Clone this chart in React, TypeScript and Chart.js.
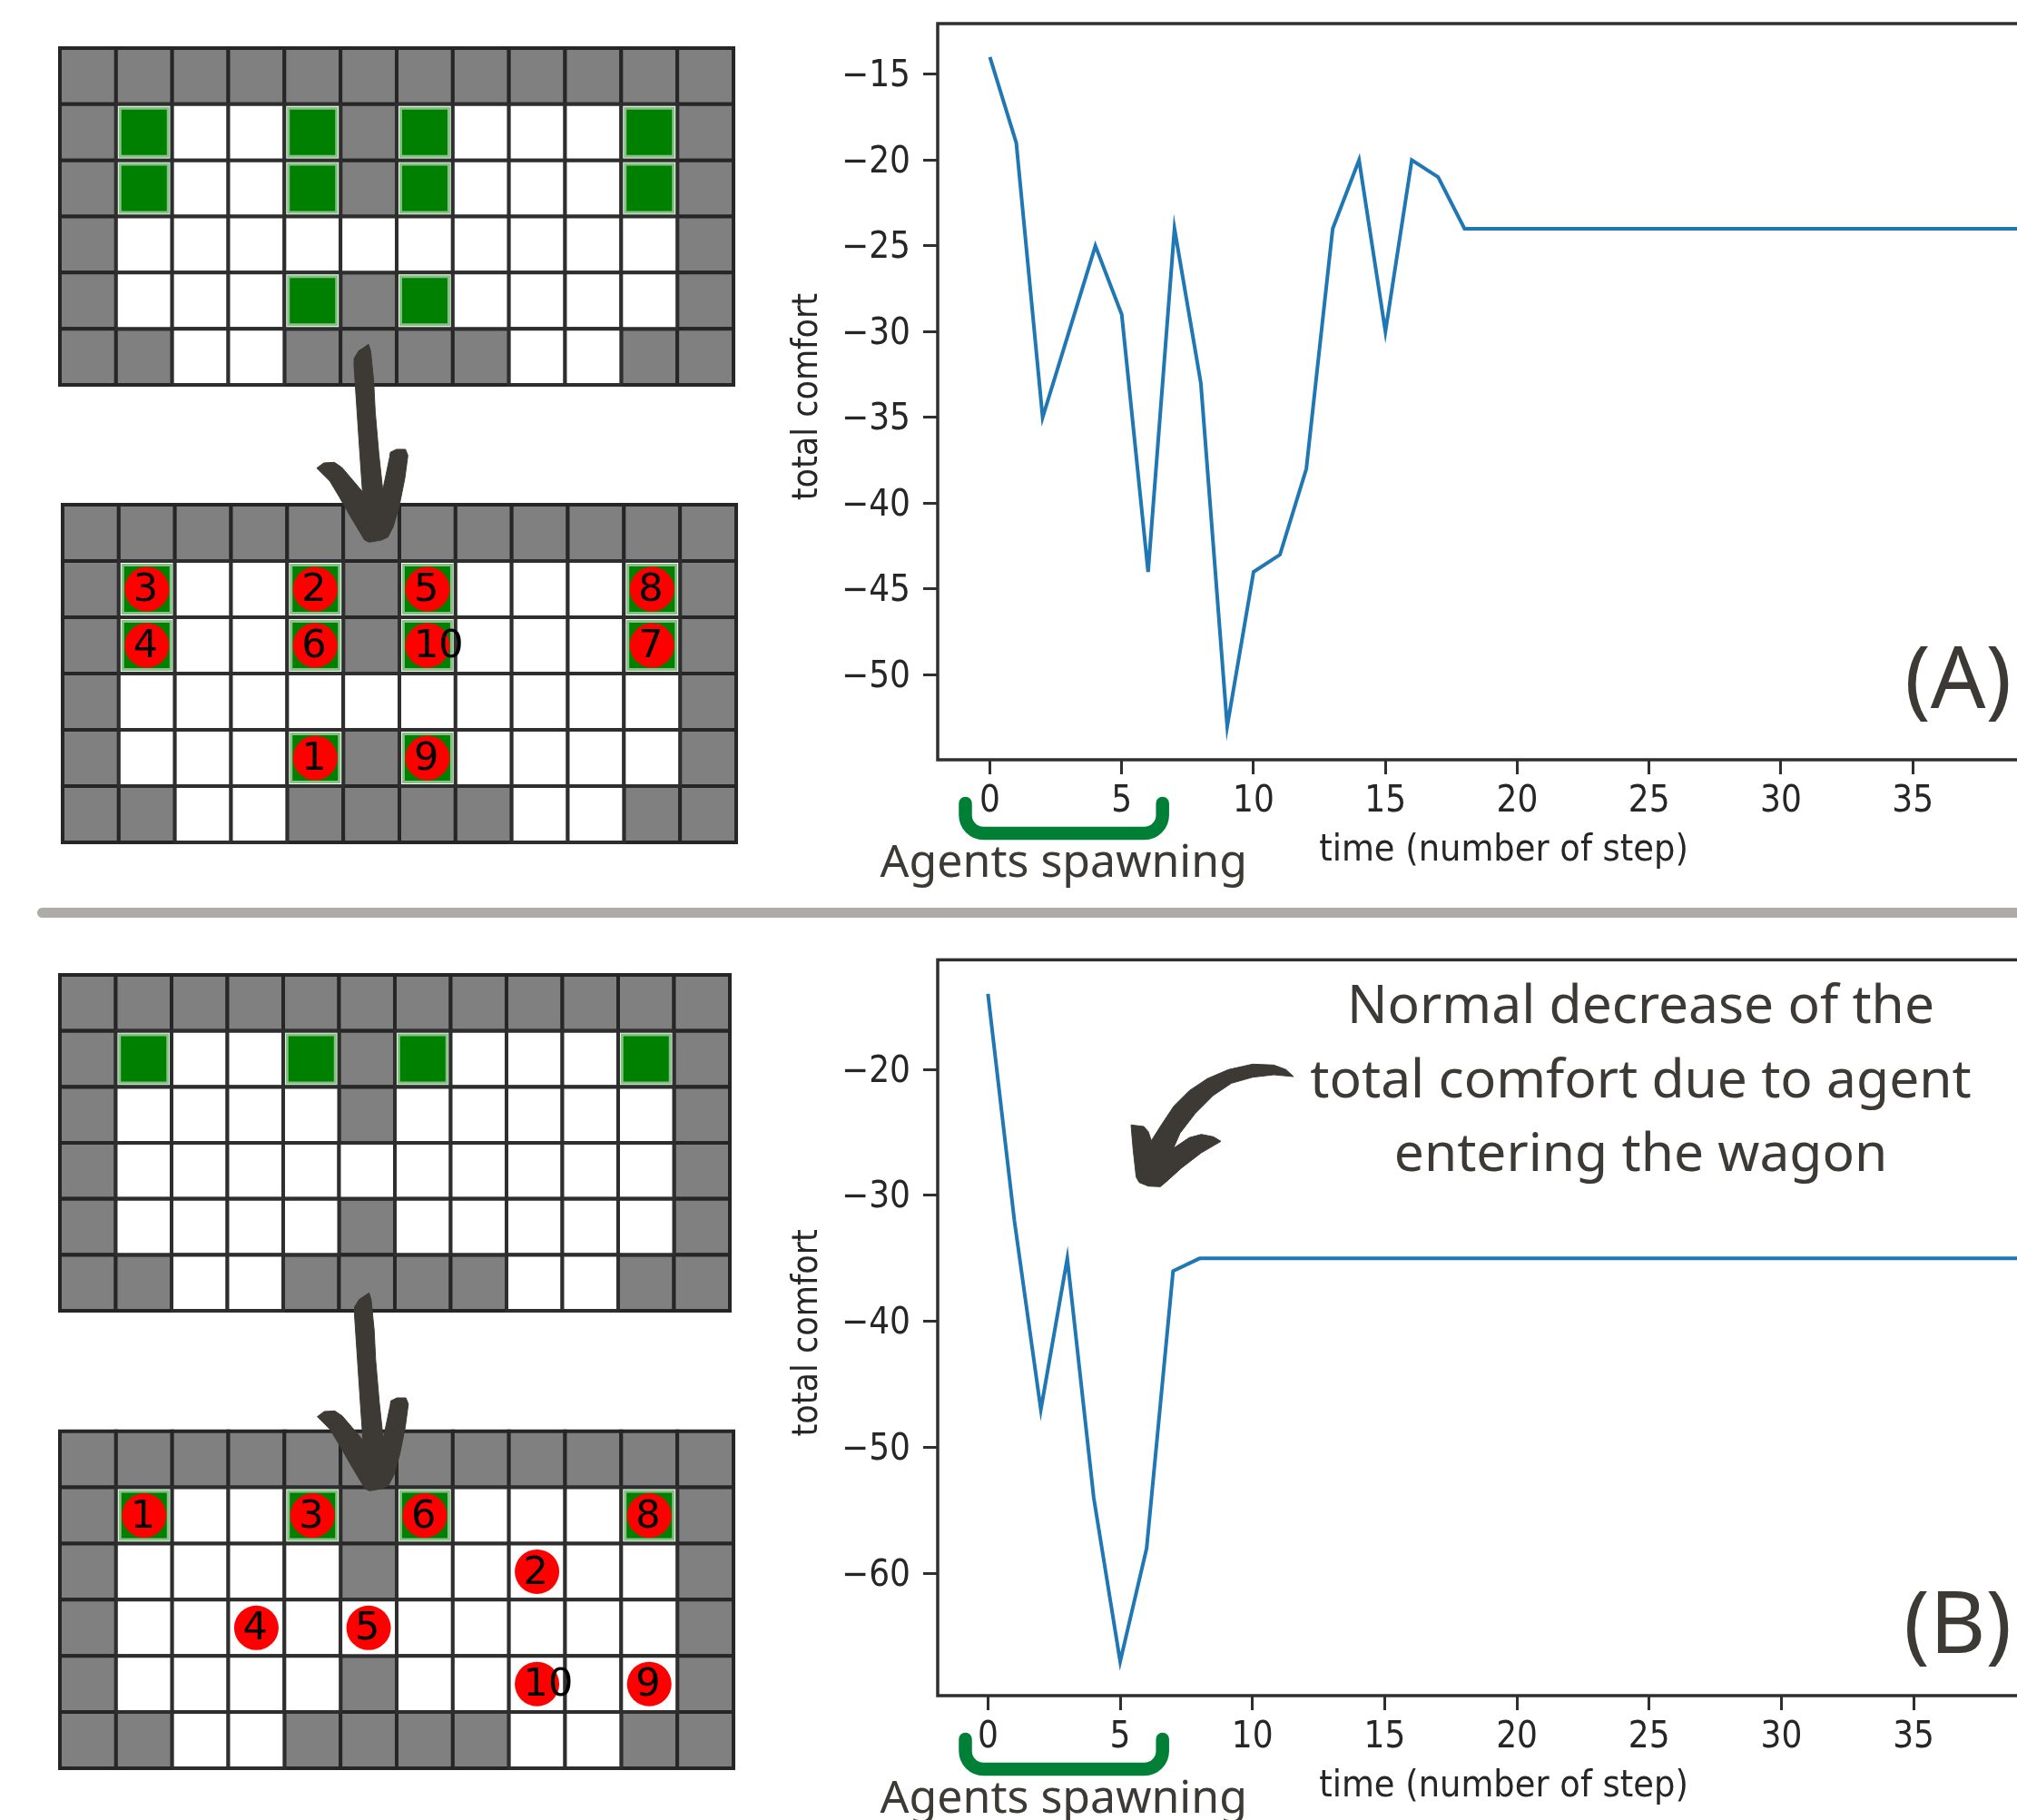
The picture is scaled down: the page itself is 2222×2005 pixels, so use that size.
import React, { useEffect, useRef } from "react";
import { Chart, registerables } from "chart.js";

Chart.register(...registerables);

// ---------- data ----------
const comfortA = [-14, -19, -35, -30, -25, -29, -44, -24, -33, -53, -44, -43, -38, -24, -20, -30, -20, -21, -24,
  -24, -24, -24, -24, -24, -24, -24, -24, -24, -24, -24, -24, -24, -24, -24, -24, -24, -24, -24, -24, -24];
const comfortB = [-14, -32, -47, -35, -54, -67, -58, -36, -35,
  -35, -35, -35, -35, -35, -35, -35, -35, -35, -35, -35, -35, -35, -35, -35, -35, -35, -35, -35, -35, -35, -35, -35, -35, -35, -35, -35, -35, -35, -35, -35];
const steps = comfortA.map((_, i) => i);
const xTicks = [0, 5, 10, 15, 20, 25, 30, 35];
const yTicksA = [-15, -20, -25, -30, -35, -40, -45, -50];
const yTicksB = [-20, -30, -40, -50, -60];
const xTitle = "time (number of step)";
const yTitle = "total comfort ";
const spawnLabel = "Agents spawning";
const noteLines = ["Normal decrease of the", "total comfort due to agent", "entering the wagon"];

// W = wall, F = free floor, S = seat
const layoutA = [
  "WWWWWWWWWWWW",
  "WSFFSWSFFFSW",
  "WSFFSWSFFFSW",
  "WFFFFFFFFFFW",
  "WFFFSWSFFFFW",
  "WWFFWWWWFFWW",
];
const layoutB = [
  "WWWWWWWWWWWW",
  "WSFFSWSFFFSW",
  "WFFFFWFFFFFW",
  "WFFFFFFFFFFW",
  "WFFFFWFFFFFW",
  "WWFFWWWWFFWW",
];
// [agent number, column, row]
const agentsA: number[][] = [
  [3, 1, 1], [2, 4, 1], [5, 6, 1], [8, 10, 1],
  [4, 1, 2], [6, 4, 2], [10, 6, 2], [7, 10, 2],
  [1, 4, 4], [9, 6, 4],
];
const agentsB: number[][] = [
  [1, 1, 1], [3, 4, 1], [6, 6, 1], [8, 10, 1],
  [2, 8, 2], [4, 3, 3], [5, 5, 3], [10, 8, 4], [9, 10, 4],
];
const noAgents: number[][] = [];

// ---------- styles ----------
const INK = "#3d3a35";
const AXIS = "#2f2f2f";
const TICK_FONT = '"DejaVu Sans Condensed", "DejaVu Sans"';
const NOTE_FONT = '"Noto Sans", "Open Sans"';

const straightArrow = [
  [150, 75], [165, 50], [198, 28], [205, 50], [215, 150], [220, 250], [232, 390], [245, 510], [268, 400], [270, 385],
  [290, 375], [320, 375], [328, 395], [318, 470], [300, 560], [280, 630], [262, 665], [240, 675], [200, 682], [185, 675],
  [140, 600], [100, 530], [70, 480], [27, 437], [50, 420], [85, 418], [110, 435], [140, 470], [178, 515], [170, 400],
  [160, 250], [150, 100],
];
const curvedArrow = [
  [585, 108], [560, 85], [520, 70], [450, 67], [370, 85], [300, 115], [240, 155], [190, 205], [150, 265], [115, 320],
  [105, 290], [90, 273], [48, 268], [55, 350], [65, 440], [75, 458], [105, 470], [145, 472], [165, 455], [215, 410],
  [280, 360], [345, 322], [320, 307], [280, 299], [240, 310], [188, 345], [210, 295], [260, 230], [320, 170], [380, 130],
  [450, 110], [520, 102],
];

function drawShape(ctx: CanvasRenderingContext2D, pts: number[][], ox: number, oy: number) {
  ctx.save();
  ctx.fillStyle = INK;
  ctx.strokeStyle = INK;
  ctx.lineWidth = 1;
  ctx.lineJoin = "round";
  ctx.beginPath();
  pts.forEach(([x, y], i) => {
    const px = ox + x / 3;
    const py = oy + y / 3;
    if (i === 0) ctx.moveTo(px, py);
    else ctx.lineTo(px, py);
  });
  ctx.closePath();
  ctx.fill();
  ctx.stroke();
  ctx.restore();
}

// ---------- grid panel ----------
type GridProps = {
  layout: string[];
  agents: number[][];
  left: number;
  top: number;
  right: number;
  bottom: number;
  arrowAt?: number[];
};

function GridChart({ layout, agents, left, top, right, bottom, arrowAt }: GridProps) {
  const ref = useRef<HTMLCanvasElement>(null);
  const pad = 4;
  const canvasTop = arrowAt ? Math.min(arrowAt[1] - 10, top - pad) : top - pad;
  const canvasLeft = left - pad;
  const canvasW = right - left + 2 * pad;
  const canvasH = bottom + pad - canvasTop;
  useEffect(() => {
    const pick = (kinds: string) => {
      const out: { x: number; y: number }[] = [];
      layout.forEach((row, r) => {
        row.split("").forEach((c, k) => {
          if (kinds.includes(c)) out.push({ x: k + 0.5, y: r + 0.5 });
        });
      });
      return out;
    };
    const cell = (right - left) / 12;
    const cellR = cell / Math.SQRT2;
    const chart = new Chart(ref.current!, {
      type: "scatter",
      data: {
        datasets: [
          {
            label: "agents",
            data: agents.map(([, c, r]) => ({ x: c + 0.5, y: r + 0.5 })),
            pointStyle: "circle",
            pointRadius: 24.5,
            pointBackgroundColor: "#ff0000",
            pointBorderWidth: 0,
            clip: false,
          },
          {
            label: "seats",
            data: pick("S"),
            pointStyle: "rect",
            pointRadius: 37.5,
            pointBackgroundColor: "#008000",
            pointBorderColor: "#86c286",
            pointBorderWidth: 3,
            clip: false,
          },
          {
            label: "floor",
            data: pick("FS"),
            pointStyle: "rect",
            pointRadius: cellR,
            pointBackgroundColor: "#ffffff",
            pointBorderColor: "#2e2e2e",
            pointBorderWidth: 4,
            clip: false,
          },
          {
            label: "walls",
            data: pick("W"),
            pointStyle: "rect",
            pointRadius: cellR,
            pointBackgroundColor: "#808080",
            pointBorderColor: "#262626",
            pointBorderWidth: 4,
            clip: false,
          },
        ] as any,
      },
      options: {
        animation: false,
        responsive: false,
        events: [],
        layout: { autoPadding: false, padding: { left: pad, right: pad, bottom: pad, top: top - canvasTop } },
        scales: {
          x: { type: "linear", min: 0, max: 12, display: false },
          y: { type: "linear", min: 0, max: 6, reverse: true, display: false },
        },
        plugins: { legend: { display: false }, tooltip: { enabled: false } },
      },
      plugins: [
        {
          id: "agentNumbers",
          afterDatasetsDraw(c: any) {
            const ctx = c.ctx as CanvasRenderingContext2D;
            ctx.save();
            ctx.fillStyle = "#000000";
            ctx.font = '43px "DejaVu Sans"';
            ctx.textBaseline = "middle";
            ctx.textAlign = "left";
            agents.forEach(([n, col, row]) => {
              const x = c.scales.x.getPixelForValue(col + 0.5);
              const y = c.scales.y.getPixelForValue(row + 0.5);
              ctx.fillText(String(n), x - 15, y + 2);
            });
            ctx.restore();
            if (arrowAt) drawShape(ctx, straightArrow, arrowAt[0] - canvasLeft, arrowAt[1] - canvasTop);
          },
        },
      ],
    } as any);
    return () => chart.destroy();
  }, []);
  return (
    <canvas
      ref={ref}
      width={canvasW}
      height={canvasH}
      style={{ position: "absolute", left: canvasLeft, top: canvasTop, display: "block" }}
    />
  );
}

// ---------- comfort line chart ----------
type LineProps = {
  values: number[];
  yTicks: number[];
  top: number;
  bottom: number;
  xMin: number;
  xMax: number;
  yMin: number;
  yMax: number;
  tag: string;
  tagBaseline: number;
  note?: boolean;
};

function ComfortChart({ values, yTicks, top, bottom, xMin, xMax, yMin, yMax, tag, tagBaseline, note }: LineProps) {
  const ref = useRef<HTMLCanvasElement>(null);
  const canvasLeft = 840;
  const canvasTop = bottom - 837;
  const canvasW = 1460;
  const canvasH = 1000;
  const axisLeft = 1033;
  const axisRight = 2280;
  useEffect(() => {
    const chart = new Chart(ref.current!, {
      type: "line",
      data: {
        labels: steps,
        datasets: [
          {
            data: steps.map((s, i) => ({ x: s, y: values[i] })),
            borderColor: "#1f77b4",
            borderWidth: 4,
            pointRadius: 0,
            tension: 0,
            fill: false,
          },
        ],
      },
      options: {
        animation: false,
        responsive: false,
        events: [],
        layout: {
          autoPadding: false,
          padding: { left: 0, top: top - canvasTop, right: canvasLeft + canvasW - axisRight, bottom: 0 },
        },
        scales: {
          x: {
            type: "linear",
            min: xMin,
            max: xMax,
            afterBuildTicks: (s: any) => {
              s.ticks = xTicks.map((value) => ({ value }));
            },
            afterFit: (s: any) => {
              s.height = canvasH - (bottom - canvasTop);
              s.paddingLeft = 0;
              s.paddingRight = 0;
            },
            grid: { drawOnChartArea: false, drawTicks: true, tickLength: 16, tickWidth: 3, tickColor: AXIS },
            border: { display: false },
            ticks: {
              autoSkip: false,
              maxRotation: 0,
              padding: 7,
              color: "#262626",
              font: { family: TICK_FONT, size: 40 },
              callback: (v: any) => String(v),
            },
            title: {
              display: true,
              text: xTitle,
              color: "#262626",
              font: { family: TICK_FONT, size: 41 },
              padding: { top: 0, bottom: 38 },
            },
          },
          y: {
            type: "linear",
            min: yMin,
            max: yMax,
            afterBuildTicks: (s: any) => {
              s.ticks = yTicks.map((value) => ({ value }));
            },
            afterFit: (s: any) => {
              s.width = axisLeft - canvasLeft;
              s.paddingTop = 0;
              s.paddingBottom = 0;
            },
            grid: { drawOnChartArea: false, drawTicks: true, tickLength: 16, tickWidth: 3, tickColor: AXIS },
            border: { display: false },
            ticks: {
              autoSkip: false,
              padding: 14,
              color: "#262626",
              font: { family: TICK_FONT, size: 40 },
              callback: (v: any) => String(v).replace("-", "\u2212"),
            },
            title: {
              display: true,
              text: yTitle,
              color: "#262626",
              font: { family: TICK_FONT, size: 39 },
              padding: { top: 26, bottom: 0 },
            },
          },
        },
        plugins: { legend: { display: false }, tooltip: { enabled: false } },
      },
      plugins: [
        {
          id: "frameAndNotes",
          beforeDraw(c: any) {
            // the y labels sit a little under their tick marks in the reference
            c.scales.y.getLabelItems().forEach((item: any) => {
              item.options.translation = [item.options.translation[0], item.options.translation[1] + 3];
            });
          },
          afterDraw(c: any) {
            const ctx = c.ctx as CanvasRenderingContext2D;
            const a = c.chartArea;
            ctx.save();
            ctx.strokeStyle = AXIS;
            ctx.lineWidth = 3.5;
            ctx.strokeRect(a.left, a.top, a.right - a.left, a.bottom - a.top);

            // spawning bracket
            const yTop = a.bottom + 48;
            const yBot = a.bottom + 81;
            const xL = 1063.5 - canvasLeft;
            const xR = 1280.7 - canvasLeft;
            ctx.strokeStyle = "#008037";
            ctx.lineWidth = 14.5;
            ctx.lineCap = "round";
            ctx.beginPath();
            ctx.moveTo(xL, yTop);
            ctx.arcTo(xL, yBot, xL + 25, yBot, 20);
            ctx.arcTo(xR, yBot, xR, yBot - 25, 20);
            ctx.lineTo(xR, yTop);
            ctx.stroke();

            // text
            ctx.fillStyle = INK;
            ctx.textBaseline = "alphabetic";
            ctx.textAlign = "left";
            ctx.font = `50px ${NOTE_FONT}`;
            ctx.fillText(spawnLabel, 969.6 - canvasLeft, a.bottom + 129);
            ctx.font = `95px ${NOTE_FONT}`;
            ctx.textAlign = "right";
            ctx.fillText(tag, 2216 - canvasLeft, tagBaseline - canvasTop);
            if (note) {
              ctx.textAlign = "center";
              ctx.font = `58.7px ${NOTE_FONT}`;
              noteLines.forEach((line, i) => {
                ctx.fillText(line, 1807.5 - canvasLeft, 1127 + i * 81.5 - canvasTop);
              });
            }
            ctx.restore();
            if (note) drawShape(ctx, curvedArrow, 1230 - canvasLeft, 1150 - canvasTop);
          },
        },
      ],
    } as any);
    return () => chart.destroy();
  }, []);
  return (
    <canvas
      ref={ref}
      width={canvasW}
      height={canvasH}
      style={{ position: "absolute", left: canvasLeft, top: canvasTop, display: "block" }}
    />
  );
}

export default function App() {
  return (
    <div
      style={{
        position: "absolute",
        left: 0,
        top: 0,
        width: 2222,
        height: 2005,
        overflow: "hidden",
        background: "#ffffff",
      }}
    >
      <GridChart layout={layoutA} agents={noAgents} left={65.5} right={808} top={52.5} bottom={424.4} />
      <GridChart layout={layoutA} agents={agentsA} left={69} right={811.4} top={556} bottom={928.6} arrowAt={[340, 370]} />
      <GridChart layout={layoutB} agents={noAgents} left={65.5} right={803.8} top={1073.7} bottom={1444.4} />
      <GridChart layout={layoutB} agents={agentsB} left={65.5} right={808} top={1576.7} bottom={1948.6} arrowAt={[340, 1415]} />
      <ComfortChart values={comfortA} yTicks={yTicksA} top={26} bottom={837} xMin={-1.98} xMax={40.95} yMin={-54.95} yMax={-12.05} tag="(A)" tagBaseline={780} />
      <ComfortChart values={comfortB} yTicks={yTicksB} top={1057.4} bottom={1868} xMin={-1.9} xMax={40.9} yMin={-69.7} yMax={-11.3} tag="(B)" tagBaseline={1821} note />
      <div
        style={{
          position: "absolute",
          left: 41,
          top: 1000,
          width: 2300,
          height: 10.7,
          borderRadius: 6,
          background: "#adaca9",
        }}
      />
    </div>
  );
}
